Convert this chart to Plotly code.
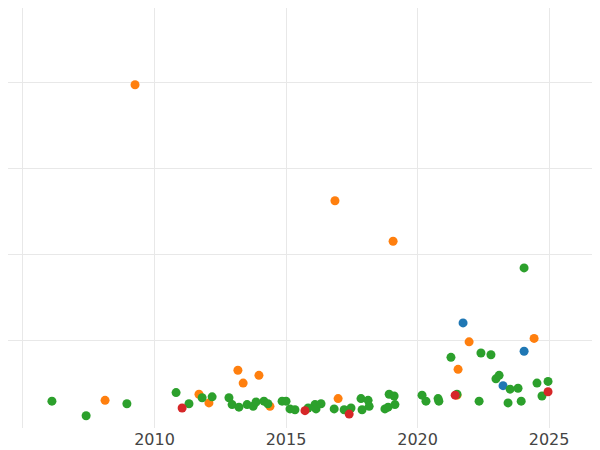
import plotly.graph_objects as go

blue_x = [2021.73, 2024.05, 2023.25]
blue_y = [1.21, 0.88, 0.48]

orange_x = [2009.26, 2016.86, 2019.07, 2008.12, 2011.69, 2012.07, 2013.17, 2013.37, 2013.97,
            2014.39, 2016.98, 2021.54, 2021.96, 2021.50, 2024.43]
orange_y = [3.98, 2.63, 2.16, 0.31, 0.38, 0.28, 0.66, 0.51, 0.60,
            0.24, 0.33, 0.67, 0.99, 0.37, 1.03]

green_x = [2006.10, 2007.40, 2008.95, 2010.82, 2011.31, 2011.81, 2012.19, 2012.83, 2012.95,
           2013.21, 2013.52, 2013.75, 2013.86, 2014.16, 2014.31, 2014.85, 2015.00, 2015.15,
           2015.34, 2015.84, 2016.10, 2016.14, 2016.33, 2016.83, 2017.21, 2017.47, 2017.85,
           2017.89, 2018.12, 2018.16, 2018.76, 2018.88, 2018.92, 2019.11, 2019.14, 2020.17,
           2020.32, 2020.78, 2020.81, 2021.27, 2021.50, 2022.34, 2022.41, 2022.79, 2022.98,
           2023.10, 2023.44, 2023.52, 2023.82, 2023.94, 2024.05, 2024.54, 2024.73, 2024.96]
green_y = [0.30, 0.13, 0.27, 0.40, 0.27, 0.34, 0.35, 0.34, 0.26,
           0.23, 0.26, 0.24, 0.29, 0.30, 0.27, 0.30, 0.30, 0.21,
           0.20, 0.22, 0.26, 0.21, 0.27, 0.21, 0.20, 0.22, 0.33,
           0.20, 0.31, 0.24, 0.21, 0.23, 0.38, 0.36, 0.26, 0.37,
           0.30, 0.33, 0.30, 0.81, 0.38, 0.30, 0.86, 0.84, 0.56,
           0.60, 0.28, 0.44, 0.45, 0.30, 1.85, 0.51, 0.36, 0.53]

red_x = [2011.05, 2015.72, 2017.40, 2021.43, 2024.96]
red_y = [0.22, 0.19, 0.15, 0.37, 0.41]

fig = go.Figure()
for xs, ys, c in [(blue_x, blue_y, "#1f77b4"), (orange_x, orange_y, "#ff7f0e"),
                  (green_x, green_y, "#2ca02c"), (red_x, red_y, "#d62728")]:
    fig.add_trace(go.Scatter(x=xs, y=ys, mode="markers",
                             marker=dict(color=c, size=9), showlegend=False))

fig.update_layout(
    width=600, height=450,
    margin=dict(l=0, r=0, t=0, b=30),
    plot_bgcolor="white", paper_bgcolor="white",
    font=dict(family="DejaVu Sans", size=16, color="#444"),
)
fig.update_xaxes(range=[2004.43, 2027.24], tickvals=[2005, 2010, 2015, 2020, 2025],
                 showgrid=True, gridcolor="#e8e8e8", zeroline=False, ticks="")
fig.update_yaxes(range=[-0.012, 4.872], tickvals=[1, 2, 3, 4], showticklabels=False,
                 showgrid=True, gridcolor="#e8e8e8", zeroline=False)
fig.write_html("out.html")
